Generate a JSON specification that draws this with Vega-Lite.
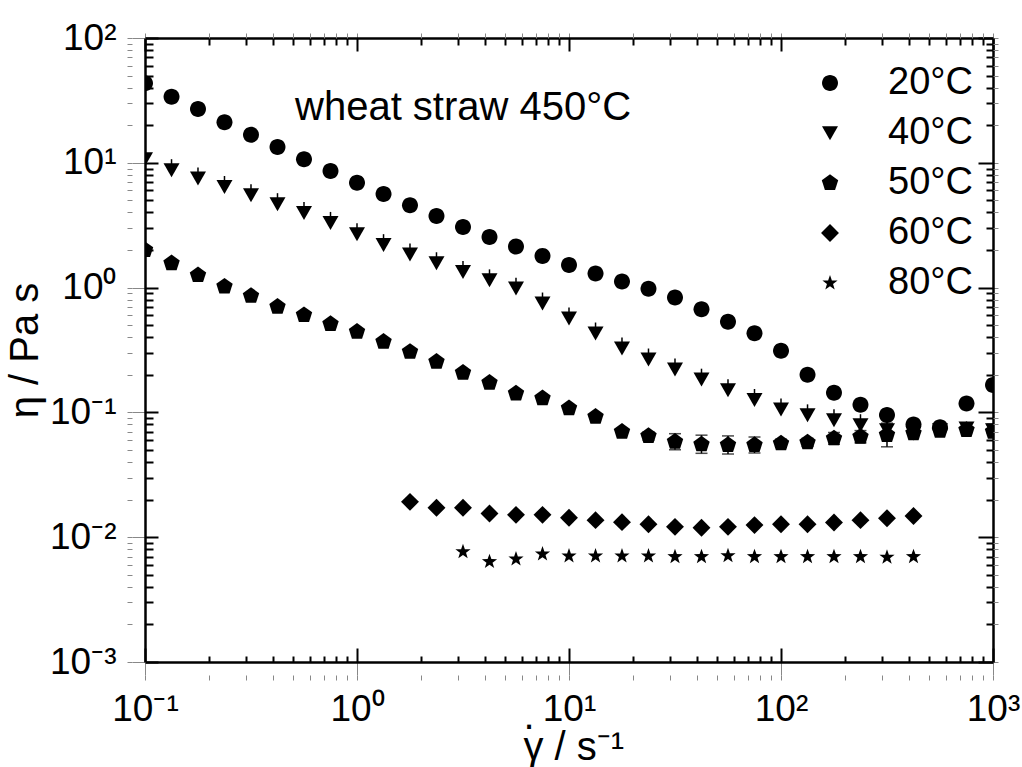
{
  "$schema": "https://vega.github.io/schema/vega-lite/v6.json",
  "width": 848,
  "height": 624,
  "autosize": "none",
  "padding": {"left": 145, "top": 38, "right": 29, "bottom": 105},
  "background": "white",
  "config": {
    "font": "Liberation Sans",
    "view": {"stroke": null},
    "axis": {
      "grid": false,
      "domainColor": "black",
      "domainWidth": 2.5,
      "labelColor": "black",
      "titleColor": "black",
      "labelFont": "Liberation Sans",
      "titleFont": "Liberation Sans",
      "titleFontWeight": "normal",
      "labelOverlap": false,
      "gridColor": "black",
      "gridWidth": 2,
      "gridOpacity": 1
    }
  },
  "datasets": {
    "eta": [
      {"T": "20°C", "x": 0.1, "y": 43.4},
      {"T": "20°C", "x": 0.1334, "y": 33.9},
      {"T": "20°C", "x": 0.1778, "y": 27.0},
      {"T": "20°C", "x": 0.2371, "y": 21.1},
      {"T": "20°C", "x": 0.3162, "y": 16.8},
      {"T": "20°C", "x": 0.4217, "y": 13.4},
      {"T": "20°C", "x": 0.5623, "y": 10.7},
      {"T": "20°C", "x": 0.7499, "y": 8.6},
      {"T": "20°C", "x": 1, "y": 6.93},
      {"T": "20°C", "x": 1.334, "y": 5.62},
      {"T": "20°C", "x": 1.778, "y": 4.56},
      {"T": "20°C", "x": 2.371, "y": 3.75},
      {"T": "20°C", "x": 3.162, "y": 3.06},
      {"T": "20°C", "x": 4.217, "y": 2.54},
      {"T": "20°C", "x": 5.623, "y": 2.13},
      {"T": "20°C", "x": 7.499, "y": 1.79},
      {"T": "20°C", "x": 10, "y": 1.52},
      {"T": "20°C", "x": 13.34, "y": 1.30},
      {"T": "20°C", "x": 17.78, "y": 1.12},
      {"T": "20°C", "x": 23.71, "y": 0.977},
      {"T": "20°C", "x": 31.62, "y": 0.833},
      {"T": "20°C", "x": 42.17, "y": 0.670},
      {"T": "20°C", "x": 56.23, "y": 0.533},
      {"T": "20°C", "x": 74.99, "y": 0.430},
      {"T": "20°C", "x": 100, "y": 0.312},
      {"T": "20°C", "x": 133.4, "y": 0.200},
      {"T": "20°C", "x": 177.8, "y": 0.144},
      {"T": "20°C", "x": 237.1, "y": 0.115},
      {"T": "20°C", "x": 316.2, "y": 0.0953},
      {"T": "20°C", "x": 421.7, "y": 0.0800},
      {"T": "20°C", "x": 562.3, "y": 0.0760},
      {"T": "20°C", "x": 749.9, "y": 0.118},
      {"T": "20°C", "x": 1000, "y": 0.166},
      {"T": "40°C", "x": 0.1, "y": 10.7},
      {"T": "40°C", "x": 0.1334, "y": 8.76},
      {"T": "40°C", "x": 0.1778, "y": 7.51},
      {"T": "40°C", "x": 0.2371, "y": 6.43},
      {"T": "40°C", "x": 0.3162, "y": 5.52},
      {"T": "40°C", "x": 0.4217, "y": 4.68},
      {"T": "40°C", "x": 0.5623, "y": 3.98},
      {"T": "40°C", "x": 0.7499, "y": 3.31},
      {"T": "40°C", "x": 1, "y": 2.69},
      {"T": "40°C", "x": 1.334, "y": 2.20},
      {"T": "40°C", "x": 1.778, "y": 1.85},
      {"T": "40°C", "x": 2.371, "y": 1.57},
      {"T": "40°C", "x": 3.162, "y": 1.34},
      {"T": "40°C", "x": 4.217, "y": 1.15},
      {"T": "40°C", "x": 5.623, "y": 0.987},
      {"T": "40°C", "x": 7.499, "y": 0.748},
      {"T": "40°C", "x": 10, "y": 0.568},
      {"T": "40°C", "x": 13.34, "y": 0.430},
      {"T": "40°C", "x": 17.78, "y": 0.326},
      {"T": "40°C", "x": 23.71, "y": 0.266},
      {"T": "40°C", "x": 31.62, "y": 0.221},
      {"T": "40°C", "x": 42.17, "y": 0.184},
      {"T": "40°C", "x": 56.23, "y": 0.151},
      {"T": "40°C", "x": 74.99, "y": 0.126},
      {"T": "40°C", "x": 100, "y": 0.106},
      {"T": "40°C", "x": 133.4, "y": 0.0953},
      {"T": "40°C", "x": 177.8, "y": 0.0869},
      {"T": "40°C", "x": 237.1, "y": 0.0793},
      {"T": "40°C", "x": 316.2, "y": 0.0723},
      {"T": "40°C", "x": 421.7, "y": 0.0681},
      {"T": "40°C", "x": 562.3, "y": 0.0723},
      {"T": "40°C", "x": 749.9, "y": 0.0746},
      {"T": "40°C", "x": 1000, "y": 0.0723},
      {"T": "50°C", "x": 0.1, "y": 2.0},
      {"T": "50°C", "x": 0.1334, "y": 1.57},
      {"T": "50°C", "x": 0.1778, "y": 1.26},
      {"T": "50°C", "x": 0.2371, "y": 1.02},
      {"T": "50°C", "x": 0.3162, "y": 0.859},
      {"T": "50°C", "x": 0.4217, "y": 0.703},
      {"T": "50°C", "x": 0.5623, "y": 0.603},
      {"T": "50°C", "x": 0.7499, "y": 0.511},
      {"T": "50°C", "x": 1, "y": 0.443},
      {"T": "50°C", "x": 1.334, "y": 0.369},
      {"T": "50°C", "x": 1.778, "y": 0.306},
      {"T": "50°C", "x": 2.371, "y": 0.255},
      {"T": "50°C", "x": 3.162, "y": 0.208},
      {"T": "50°C", "x": 4.217, "y": 0.173},
      {"T": "50°C", "x": 5.623, "y": 0.142},
      {"T": "50°C", "x": 7.499, "y": 0.130},
      {"T": "50°C", "x": 10, "y": 0.108},
      {"T": "50°C", "x": 13.34, "y": 0.0924},
      {"T": "50°C", "x": 17.78, "y": 0.0700},
      {"T": "50°C", "x": 23.71, "y": 0.0647},
      {"T": "50°C", "x": 31.62, "y": 0.0582},
      {"T": "50°C", "x": 42.17, "y": 0.0555},
      {"T": "50°C", "x": 56.23, "y": 0.0548},
      {"T": "50°C", "x": 74.99, "y": 0.0548},
      {"T": "50°C", "x": 100, "y": 0.0565},
      {"T": "50°C", "x": 133.4, "y": 0.0576},
      {"T": "50°C", "x": 177.8, "y": 0.0620},
      {"T": "50°C", "x": 237.1, "y": 0.0638},
      {"T": "50°C", "x": 316.2, "y": 0.0659},
      {"T": "50°C", "x": 421.7, "y": 0.0681},
      {"T": "50°C", "x": 562.3, "y": 0.0713},
      {"T": "50°C", "x": 749.9, "y": 0.0723},
      {"T": "50°C", "x": 1000, "y": 0.0700},
      {"T": "60°C", "x": 1.778, "y": 0.0192},
      {"T": "60°C", "x": 2.371, "y": 0.0172},
      {"T": "60°C", "x": 3.162, "y": 0.0172},
      {"T": "60°C", "x": 4.217, "y": 0.0155},
      {"T": "60°C", "x": 5.623, "y": 0.0151},
      {"T": "60°C", "x": 7.499, "y": 0.0151},
      {"T": "60°C", "x": 10, "y": 0.0143},
      {"T": "60°C", "x": 13.34, "y": 0.0137},
      {"T": "60°C", "x": 17.78, "y": 0.0132},
      {"T": "60°C", "x": 23.71, "y": 0.0127},
      {"T": "60°C", "x": 31.62, "y": 0.0121},
      {"T": "60°C", "x": 42.17, "y": 0.0119},
      {"T": "60°C", "x": 56.23, "y": 0.0121},
      {"T": "60°C", "x": 74.99, "y": 0.0125},
      {"T": "60°C", "x": 100, "y": 0.0127},
      {"T": "60°C", "x": 133.4, "y": 0.0127},
      {"T": "60°C", "x": 177.8, "y": 0.0131},
      {"T": "60°C", "x": 237.1, "y": 0.0137},
      {"T": "60°C", "x": 316.2, "y": 0.0142},
      {"T": "60°C", "x": 421.7, "y": 0.0148},
      {"T": "80°C", "x": 3.162, "y": 0.00765},
      {"T": "80°C", "x": 4.217, "y": 0.00637},
      {"T": "80°C", "x": 5.623, "y": 0.00669},
      {"T": "80°C", "x": 7.499, "y": 0.00733},
      {"T": "80°C", "x": 10, "y": 0.00707},
      {"T": "80°C", "x": 13.34, "y": 0.00707},
      {"T": "80°C", "x": 17.78, "y": 0.00707},
      {"T": "80°C", "x": 23.71, "y": 0.00707},
      {"T": "80°C", "x": 31.62, "y": 0.00698},
      {"T": "80°C", "x": 42.17, "y": 0.00698},
      {"T": "80°C", "x": 56.23, "y": 0.00710},
      {"T": "80°C", "x": 74.99, "y": 0.00698},
      {"T": "80°C", "x": 100, "y": 0.00698},
      {"T": "80°C", "x": 133.4, "y": 0.00698},
      {"T": "80°C", "x": 177.8, "y": 0.00698},
      {"T": "80°C", "x": 237.1, "y": 0.00698},
      {"T": "80°C", "x": 316.2, "y": 0.00690},
      {"T": "80°C", "x": 421.7, "y": 0.00698}
    ],
    "err": [
      {"T": "40°C", "x": 0.1334, "lo": 8.76, "hi": 10.69},
      {"T": "40°C", "x": 0.1778, "lo": 7.51, "hi": 9.16},
      {"T": "40°C", "x": 0.2371, "lo": 6.43, "hi": 7.84},
      {"T": "40°C", "x": 0.3162, "lo": 5.52, "hi": 6.73},
      {"T": "40°C", "x": 0.4217, "lo": 4.68, "hi": 5.71},
      {"T": "40°C", "x": 0.5623, "lo": 3.98, "hi": 4.86},
      {"T": "40°C", "x": 0.7499, "lo": 3.31, "hi": 4.04},
      {"T": "40°C", "x": 1, "lo": 2.69, "hi": 3.28},
      {"T": "40°C", "x": 1.334, "lo": 2.20, "hi": 2.68},
      {"T": "40°C", "x": 1.778, "lo": 1.85, "hi": 2.26},
      {"T": "40°C", "x": 2.371, "lo": 1.57, "hi": 1.92},
      {"T": "40°C", "x": 3.162, "lo": 1.34, "hi": 1.63},
      {"T": "40°C", "x": 4.217, "lo": 1.15, "hi": 1.40},
      {"T": "40°C", "x": 5.623, "lo": 0.987, "hi": 1.20},
      {"T": "40°C", "x": 7.499, "lo": 0.748, "hi": 0.913},
      {"T": "40°C", "x": 10, "lo": 0.568, "hi": 0.693},
      {"T": "40°C", "x": 13.34, "lo": 0.430, "hi": 0.525},
      {"T": "40°C", "x": 17.78, "lo": 0.326, "hi": 0.398},
      {"T": "40°C", "x": 23.71, "lo": 0.266, "hi": 0.325},
      {"T": "40°C", "x": 31.62, "lo": 0.221, "hi": 0.270},
      {"T": "40°C", "x": 42.17, "lo": 0.184, "hi": 0.224},
      {"T": "40°C", "x": 56.23, "lo": 0.151, "hi": 0.184},
      {"T": "40°C", "x": 74.99, "lo": 0.126, "hi": 0.154},
      {"T": "40°C", "x": 100, "lo": 0.106, "hi": 0.129},
      {"T": "40°C", "x": 133.4, "lo": 0.0953, "hi": 0.116},
      {"T": "40°C", "x": 177.8, "lo": 0.0869, "hi": 0.106},
      {"T": "40°C", "x": 237.1, "lo": 0.0793, "hi": 0.0967},
      {"T": "40°C", "x": 316.2, "lo": 0.0723, "hi": 0.0882},
      {"T": "50°C", "x": 23.71, "lo": 0.0600, "hi": 0.0700},
      {"T": "50°C", "x": 31.62, "lo": 0.0502, "hi": 0.0675},
      {"T": "50°C", "x": 42.17, "lo": 0.0470, "hi": 0.0657},
      {"T": "50°C", "x": 56.23, "lo": 0.0464, "hi": 0.0648},
      {"T": "50°C", "x": 74.99, "lo": 0.0473, "hi": 0.0635},
      {"T": "50°C", "x": 100, "lo": 0.0525, "hi": 0.0610},
      {"T": "50°C", "x": 133.4, "lo": 0.0535, "hi": 0.0620},
      {"T": "50°C", "x": 177.8, "lo": 0.0555, "hi": 0.0690},
      {"T": "50°C", "x": 237.1, "lo": 0.0570, "hi": 0.0715},
      {"T": "50°C", "x": 316.2, "lo": 0.0530, "hi": 0.0820}
    ],
    "note": [{"label": "wheat straw 450°C", "x": 0.51, "y": 27.5}]
  },
  "layer": [
    {
      "data": {"name": "eta"},
      "mark": {"type": "point", "filled": true, "clip": true, "size": 256, "color": "black", "opacity": 1, "strokeWidth": 0},
      "encoding": {
        "x": {
          "field": "x", "type": "quantitative",
          "scale": {"type": "log", "domain": [0.1, 1000], "nice": false},
          "axis": {
            "orient": "bottom",
            "values": [0.1,1,10,100,1000],
            "labelExpr": "datum.value==0.1?'10⁻¹':datum.value==1?'10⁰':datum.value==10?'10¹':datum.value==100?'10²':datum.value==1000?'10³':''",
            "tickSize": 13,
            "labelFontSize": 37,
            "labelPadding": 16,
            "labelFlush": false,
            "title": [".", "γ / s⁻¹"],
            "titleFontSize": 40,
            "titleLineHeight": 31,
            "titleBaseline": "bottom",
            "titleAlign": "left",
            "titleAnchor": "start",
            "titleX": 378,
            "titleY": 74
          }
        },
        "y": {
          "field": "y", "type": "quantitative",
          "scale": {"type": "log", "domain": [0.001, 100], "nice": false},
          "axis": {
            "orient": "left",
            "values": [0.001,0.01,0.1,1,10,100],
            "labelExpr": "datum.value==0.001?'10⁻³':datum.value==0.01?'10⁻²':datum.value==0.1?'10⁻¹':datum.value==1?'10⁰':datum.value==10?'10¹':datum.value==100?'10²':''",
            "tickSize": 13,
            "labelFontSize": 37,
            "labelPadding": 16,
            "labelFlush": false,
            "title": "η / Pa s",
            "titleFontSize": 40,
            "titlePadding": 4
          }
        },
        "shape": {
          "field": "T", "type": "nominal",
          "scale": {
            "domain": ["20°C", "40°C", "50°C", "60°C", "80°C"],
            "range": [
              "M1,0A1,1,0,1,1,-1,0A1,1,0,1,1,1,0Z",
              "M-1,-0.85L1,-0.85L0,0.9Z",
              "M0,-1.08L1.027,-0.334L0.635,0.874L-0.635,0.874L-1.027,-0.334Z",
              "M0,-1.12L1.12,0L0,1.12L-1.12,0Z",
              "M0,-1L0.235,-0.324L0.951,-0.309L0.38,0.124L0.588,0.809L0,0.4L-0.588,0.809L-0.38,0.124L-0.951,-0.309L-0.235,-0.324Z"
            ]
          },
          "legend": {
            "title": null,
            "orient": "none",
            "legendX": 666,
            "legendY": 26,
            "padding": 0,
            "labelFontSize": 38,
            "labelFont": "Liberation Sans",
            "labelColor": "black",
            "labelOffset": 39,
            "rowPadding": 12,
            "symbolSize": 256,
            "symbolStrokeWidth": 0,
            "symbolFillColor": "black"
          }
        }
      }
    },
    {
      "data": {"name": "eta"},
      "mark": {"type": "point", "opacity": 0},
      "encoding": {
        "x": {
          "field": "x", "type": "quantitative",
          "axis": {"orient": "top", "values": [0.1,1,10,100,1000], "labels": false, "title": null, "grid": true, "gridDash": [14, 3000]}
        },
        "y": {
          "field": "y", "type": "quantitative",
          "axis": {"orient": "right", "values": [0.001,0.01,0.1,1,10,100], "labels": false, "title": null, "grid": true, "gridDash": [15, 3000]}
        }
      }
    },
    {
      "data": {"name": "eta"},
      "mark": {"type": "point", "opacity": 0},
      "encoding": {
        "x": {
          "field": "x", "type": "quantitative",
          "axis": {"orient": "top", "domain": false, "values": [0.2,0.3,0.4,0.5,0.6,0.7,0.8,0.9,2,3,4,5,6,7,8,9,20,30,40,50,60,70,80,90,200,300,400,500,600,700,800,900], "labels": false, "title": null, "grid": true, "gridDash": [6, 3000]}
        },
        "y": {
          "field": "y", "type": "quantitative",
          "axis": {"orient": "right", "domain": false, "values": [0.002,0.003,0.004,0.005,0.006,0.007,0.008,0.009,0.02,0.03,0.04,0.05,0.06,0.07,0.08,0.09,0.2,0.3,0.4,0.5,0.6,0.7,0.8,0.9,2,3,4,5,6,7,8,9,20,30,40,50,60,70,80,90], "labels": false, "title": null, "grid": true, "gridDash": [7, 3000]}
        }
      }
    },
    {
      "data": {"name": "eta"},
      "mark": {"type": "point", "opacity": 0},
      "encoding": {
        "x": {
          "field": "x", "type": "quantitative",
          "axis": {"orient": "bottom", "offset": 13, "domain": false, "values": [0.1,1,10,100,1000], "labels": false, "title": null, "grid": true, "gridDash": [13, 3000]}
        },
        "y": {
          "field": "y", "type": "quantitative",
          "axis": {"orient": "left", "offset": 13, "domain": false, "values": [0.001,0.01,0.1,1,10,100], "labels": false, "title": null, "grid": true, "gridDash": [13, 3000]}
        }
      }
    },
    {
      "data": {"name": "eta"},
      "mark": {"type": "point", "opacity": 0},
      "encoding": {
        "x": {
          "field": "x", "type": "quantitative",
          "axis": {"orient": "bottom", "offset": 13, "domain": false, "values": [0.2,0.3,0.4,0.5,0.6,0.7,0.8,0.9,2,3,4,5,6,7,8,9,20,30,40,50,60,70,80,90,200,300,400,500,600,700,800,900], "labels": false, "title": null, "grid": true, "gridDash": [7, 3000]}
        },
        "y": {
          "field": "y", "type": "quantitative",
          "axis": {"orient": "left", "offset": 13, "domain": false, "values": [0.002,0.003,0.004,0.005,0.006,0.007,0.008,0.009,0.02,0.03,0.04,0.05,0.06,0.07,0.08,0.09,0.2,0.3,0.4,0.5,0.6,0.7,0.8,0.9,2,3,4,5,6,7,8,9,20,30,40,50,60,70,80,90], "labels": false, "title": null, "grid": true, "gridDash": [8, 3000]}
        }
      }
    },
    {
      "data": {"name": "err"},
      "mark": {"type": "rule", "clip": true, "color": "black", "strokeWidth": 1.5},
      "encoding": {
        "x": {"field": "x", "type": "quantitative", "axis": null},
        "y": {"field": "lo", "type": "quantitative", "axis": null},
        "y2": {"field": "hi"}
      }
    },
    {
      "data": {"name": "err"},
      "transform": [{"filter": "datum.T == '50°C'"}],
      "mark": {"type": "tick", "orient": "horizontal", "clip": true, "color": "black", "size": 12, "thickness": 1.5},
      "encoding": {
        "x": {"field": "x", "type": "quantitative", "axis": null},
        "y": {"field": "lo", "type": "quantitative", "axis": null}
      }
    },
    {
      "data": {"name": "err"},
      "transform": [{"filter": "datum.T == '50°C'"}],
      "mark": {"type": "tick", "orient": "horizontal", "clip": true, "color": "black", "size": 12, "thickness": 1.5},
      "encoding": {
        "x": {"field": "x", "type": "quantitative", "axis": null},
        "y": {"field": "hi", "type": "quantitative", "axis": null}
      }
    },
    {
      "data": {"name": "note"},
      "mark": {"type": "text", "align": "left", "baseline": "middle", "fontSize": 40, "font": "Liberation Sans", "color": "black"},
      "encoding": {
        "x": {"field": "x", "type": "quantitative", "axis": null},
        "y": {"field": "y", "type": "quantitative", "axis": null},
        "text": {"field": "label"}
      }
    }
  ],
  "resolve": {"axis": {"x": "independent", "y": "independent"}}
}
